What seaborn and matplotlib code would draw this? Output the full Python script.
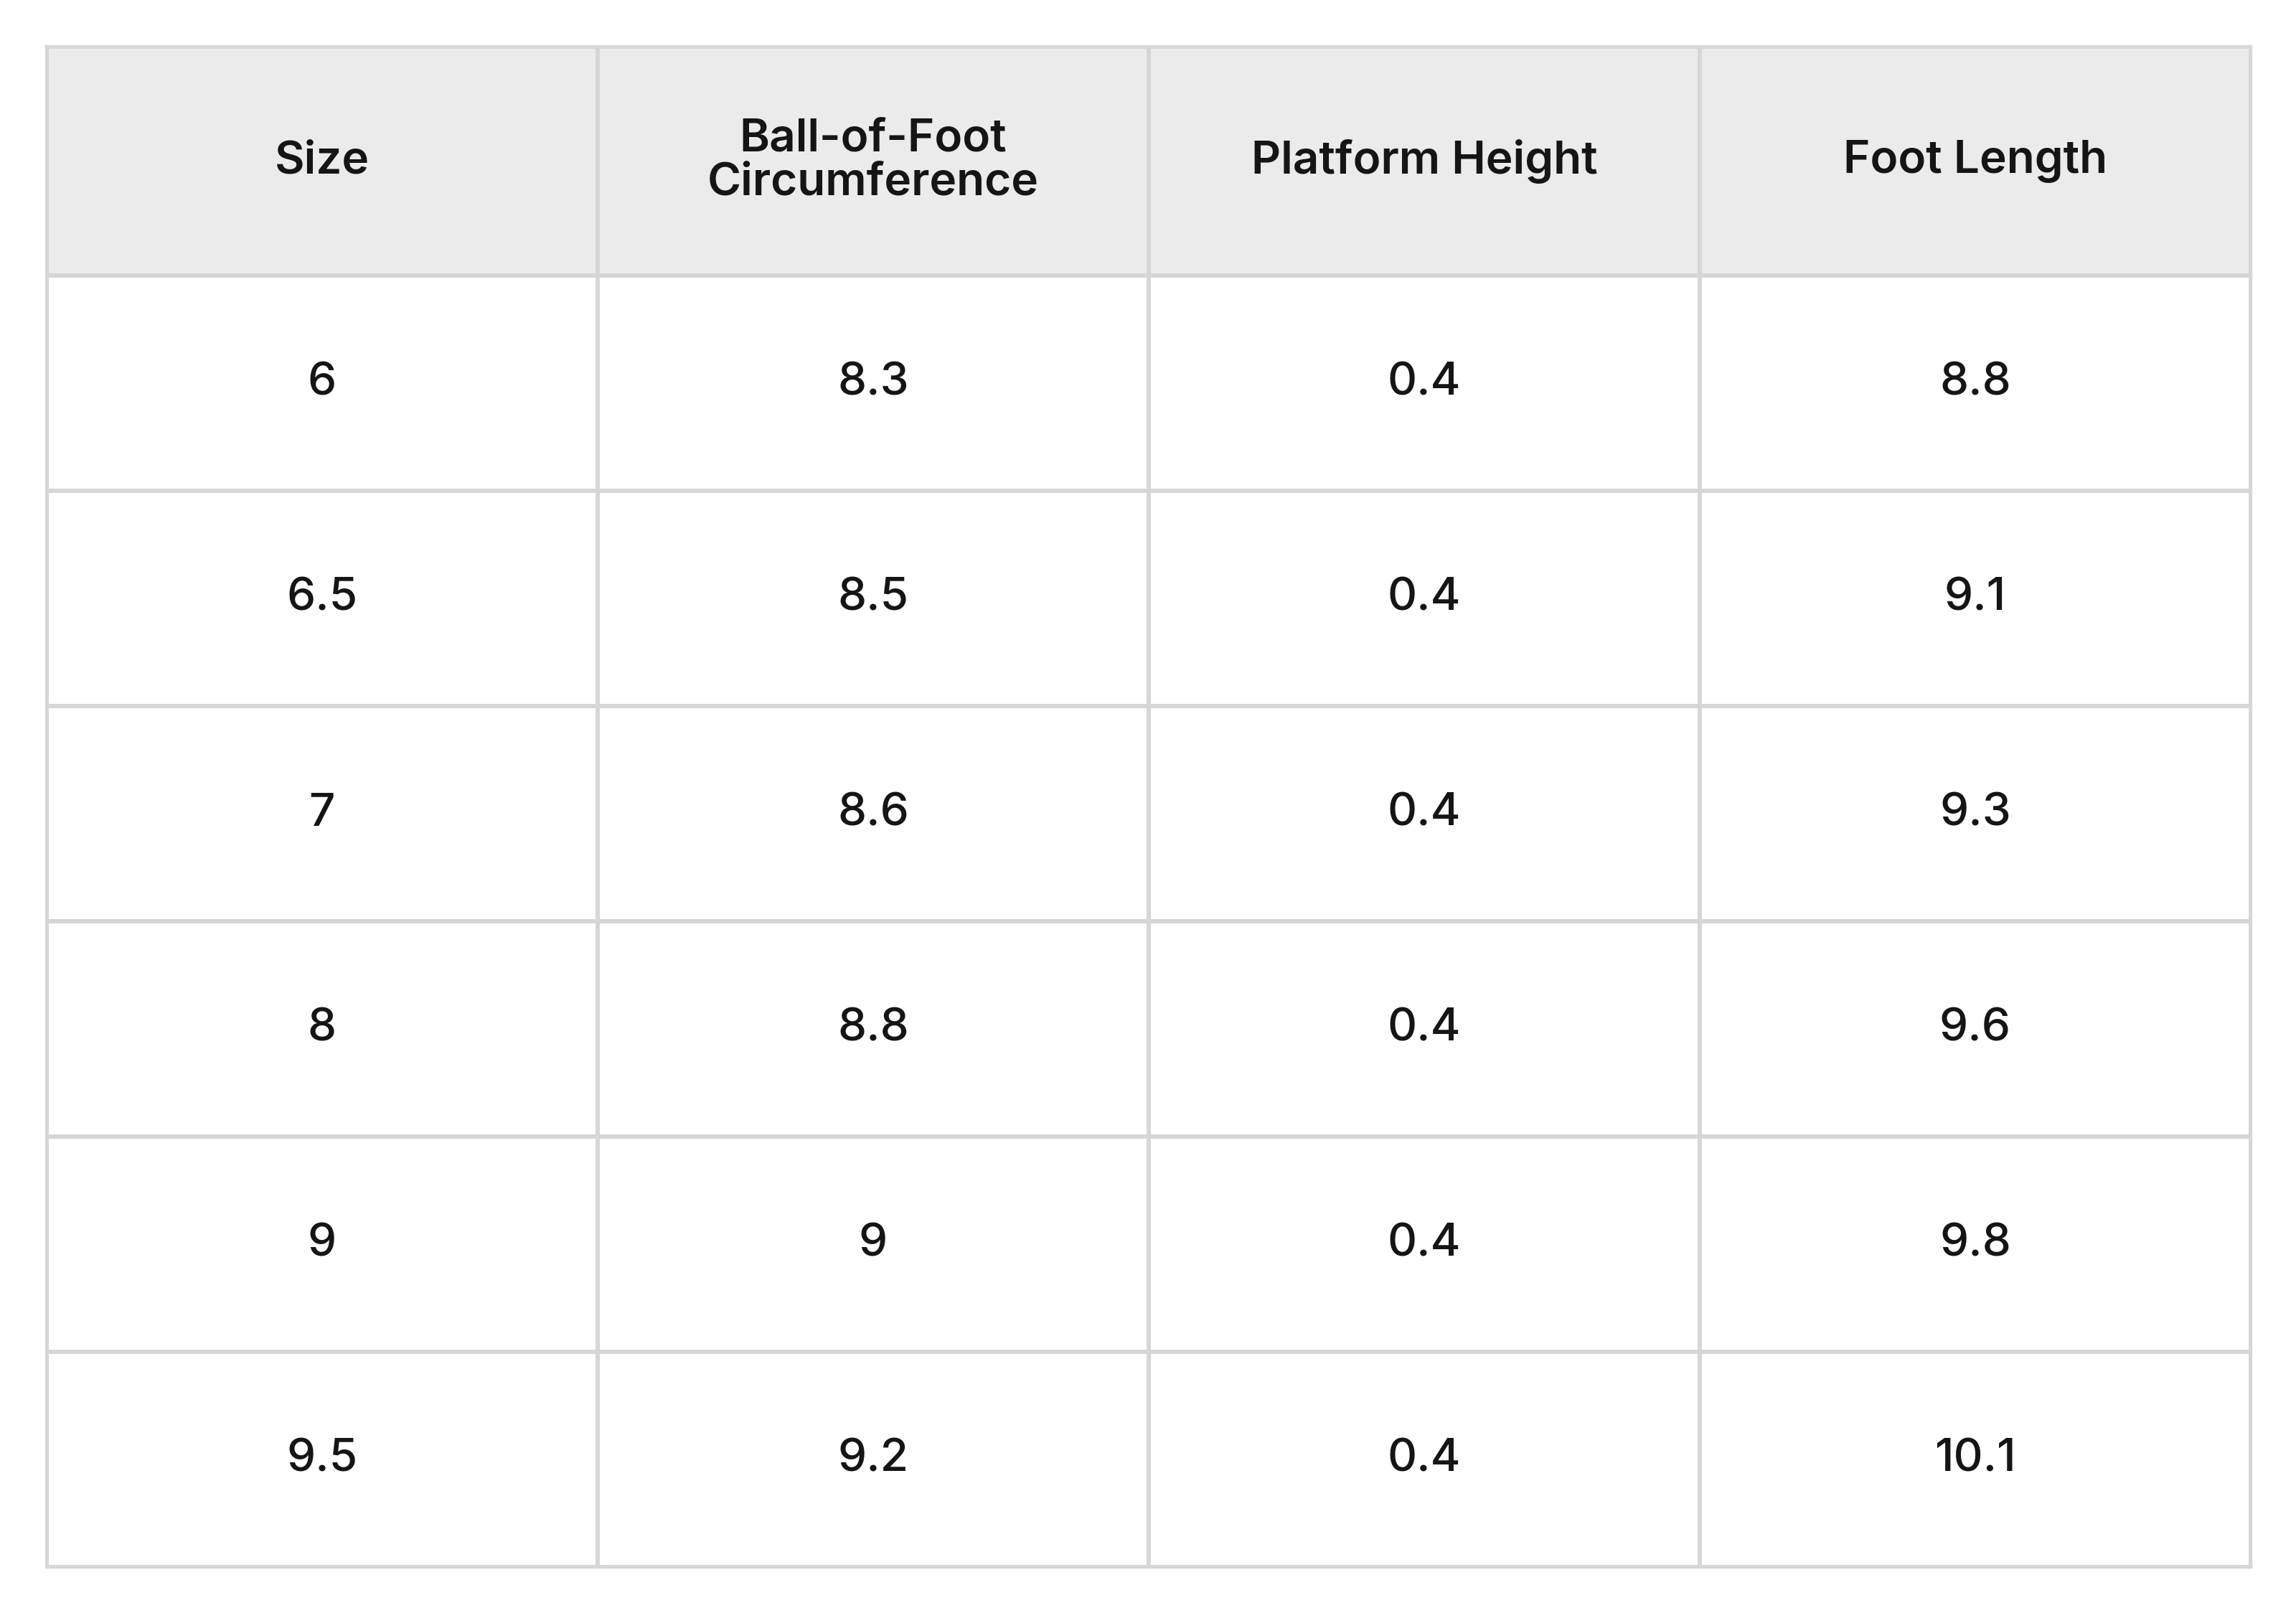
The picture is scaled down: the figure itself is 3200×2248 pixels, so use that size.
import matplotlib.pyplot as plt
import numpy as np
import seaborn as sb
from matplotlib.colors import ListedColormap

headers = ["Size", "Ball-of-Foot\nCircumference", "Platform Height", "Foot Length"]
sizes = ["6", "6.5", "7", "8", "9", "9.5"]
ball_circ = ["8.3", "8.5", "8.6", "8.8", "9", "9.2"]
platform = ["0.4", "0.4", "0.4", "0.4", "0.4", "0.4"]
foot_len = ["8.8", "9.1", "9.3", "9.6", "9.8", "10.1"]

line_c = "#d6d6d6"
fig = plt.figure(figsize=(16, 11.24), dpi=200)
fig.patch.set_facecolor("white")

ax_h = fig.add_axes([0.0203, 0.829, 0.9600, 0.142])
ax_b = fig.add_axes([0.0203, 0.0285, 0.9600, 0.8005])

head = np.array([headers], dtype=object)
sb.heatmap(np.zeros((1, 4)), ax=ax_h, cmap=ListedColormap(["#ebebeb"]), cbar=False,
           annot=head, fmt="", linewidths=1.5, linecolor=line_c,
           annot_kws=dict(fontsize=23, fontweight="semibold", color="#151515",
                          family=["Inter", "DejaVu Sans"], linespacing=1.05),
           xticklabels=False, yticklabels=False)

body = np.array([sizes, ball_circ, platform, foot_len], dtype=object).T
sb.heatmap(np.zeros(body.shape), ax=ax_b, cmap=ListedColormap(["white"]), cbar=False,
           annot=body, fmt="", linewidths=1.5, linecolor=line_c,
           annot_kws=dict(fontsize=23, fontweight="medium", color="#151515",
                          family=["Inter", "DejaVu Sans"]),
           xticklabels=False, yticklabels=False)

for ax in (ax_h, ax_b):
    for s in ax.spines.values():
        s.set_visible(True)
        s.set_color(line_c)
        s.set_linewidth(1.5)

plt.savefig("out.png", dpi=200, facecolor="white")
